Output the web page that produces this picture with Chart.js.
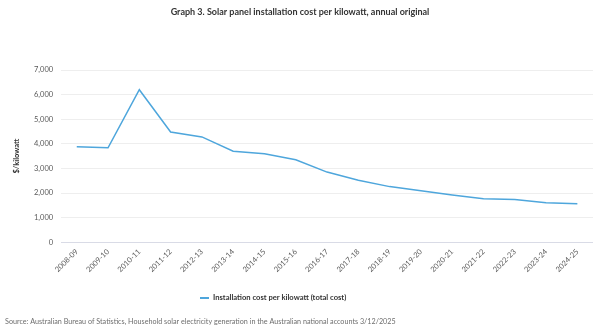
<!DOCTYPE html>
<html>
<head>
<meta charset="utf-8">
<script src="https://cdn.jsdelivr.net/npm/chart.js@4/dist/chart.umd.min.js"></script>
<style>
  html, body { margin: 0; padding: 0; background: #ffffff; }
  #wrap { width: 600px; height: 333px; position: relative; }
</style>
</head>
<body>
<div id="wrap"><canvas id="chart"></canvas></div>
<script>
const years = ['2008-09','2009-10','2010-11','2011-12','2012-13','2013-14','2014-15','2015-16',
  '2016-17','2017-18','2018-19','2019-20','2020-21','2021-22','2022-23','2023-24','2024-25'];
const costPerKw = [3880, 3840, 6200, 4480, 4280, 3700, 3600, 3350, 2850, 2520, 2260, 2090,
  1920, 1770, 1740, 1600, 1560];
const yTicks = [0, 1000, 2000, 3000, 4000, 5000, 6000, 7000];

const chartTitle = 'Graph 3. Solar panel installation cost per kilowatt, annual original';
const seriesName = 'Installation cost per kilowatt (total cost)';
const sourceNote = 'Source: Australian Bureau of Statistics, Household solar electricity generation in the Australian national accounts 3/12/2025';

const fontFamily = 'Lato, "Open Sans", sans-serif';
const lineColour = '#4ea6dc';

// Heading, legend key and source line drawn straight onto the canvas
const captions = {
  id: 'captions',
  afterDraw(chart) {
    const ctx = chart.ctx;
    ctx.save();
    ctx.textBaseline = 'middle';

    ctx.fillStyle = '#333333';
    ctx.font = 'bold 9px ' + fontFamily;
    ctx.textAlign = 'center';
    ctx.fillText(chartTitle, 300, 12.5);

    const ds = chart.data.datasets[0];
    ctx.strokeStyle = ds.borderColor;
    ctx.lineWidth = 2;
    ctx.beginPath();
    ctx.moveTo(200, 298);
    ctx.lineTo(209, 298);
    ctx.stroke();
    ctx.fillStyle = '#333333';
    ctx.font = 'bold 7.6px ' + fontFamily;
    ctx.textAlign = 'left';
    ctx.fillText(ds.label, 213, 298);

    ctx.fillStyle = '#6e6e6e';
    ctx.font = '7.2px ' + fontFamily;
    ctx.fillText(sourceNote, 5, 322);
    ctx.restore();
  }
};

new Chart(document.getElementById('chart'), {
  type: 'line',
  data: {
    labels: years,
    datasets: [{
      label: seriesName,
      data: costPerKw,
      borderColor: lineColour,
      backgroundColor: lineColour,
      borderWidth: 1.5,
      pointRadius: 0,
      tension: 0,
      fill: false
    }]
  },
  plugins: [captions],
  options: {
    responsive: true,
    maintainAspectRatio: false,
    animation: false,
    layout: { padding: { left: 12, right: 7, top: 70, bottom: 54 } },
    scales: {
      x: {
        offset: true,
        grid: { display: false, drawTicks: false },
        border: { display: false },
        ticks: {
          color: '#595959',
          font: { family: fontFamily, size: 7.5 },
          maxRotation: 45,
          minRotation: 45,
          padding: 5,
          autoSkip: false
        }
      },
      y: {
        min: 0,
        max: 7000,
        afterBuildTicks: axis => { axis.ticks = yTicks.map(v => ({ value: v })); },
        grid: {
          color: ctx => ctx.tick && ctx.tick.value === 0 ? '#d9dbe6' : '#eeeeee',
          drawTicks: false
        },
        border: { display: false },
        title: {
          display: true,
          text: '$/kilowatt',
          color: '#333333',
          font: { family: fontFamily, size: 7.5, weight: 'bold' },
          padding: { top: 0, bottom: 5 }
        },
        ticks: {
          color: '#595959',
          font: { family: fontFamily, size: 7.5 },
          padding: 8,
          callback: v => v.toLocaleString('en-US')
        }
      }
    },
    plugins: {
      title: { display: false },
      legend: { display: false },
      tooltip: { enabled: false }
    }
  }
});
</script>
</body>
</html>
